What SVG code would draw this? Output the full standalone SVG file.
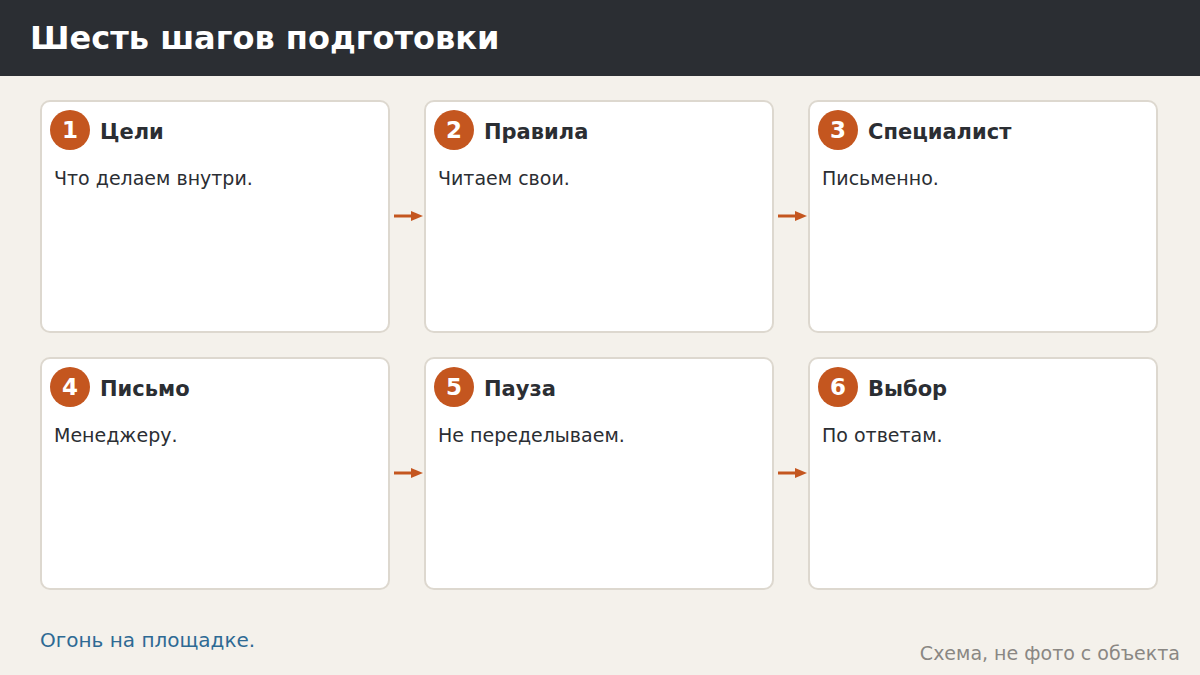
<svg xmlns="http://www.w3.org/2000/svg" width="1200" height="675" viewBox="0 0 1200 675">
<defs>
<style>
text{font-family:"DejaVu Sans","Noto Sans",sans-serif}
.card{fill:#fff;stroke:#ddd8cf;stroke-width:2}
.num{fill:#c4561f}
.nt{fill:#fff;font-size:23px;font-weight:bold;text-anchor:middle}
.tt{fill:#2b2e33;font-size:21px;font-weight:bold}
.bt{fill:#2b2e33;font-size:19px}
.conn{stroke:#c4561f;stroke-width:3;fill:none}
</style>
<marker id="ah" viewBox="0 0 12 10" refX="0" refY="5" markerWidth="4" markerHeight="3.33" markerUnits="strokeWidth" orient="auto"><path d="M0,0L12,5L0,10z" fill="#c4561f"/></marker>
</defs>
<rect width="1200" height="675" fill="#f4f1eb"/>
<rect width="1200" height="76" fill="#2b2e33"/>
<text x="30" y="49" fill="#fff" font-size="32" font-weight="bold">Шесть шагов подготовки</text>
<g id="n1"><rect class="card" x="41" y="101" width="348" height="231" rx="9"/><circle class="num" cx="70" cy="130" r="20"/><text class="nt" x="70" y="138">1</text><text class="tt" x="100" y="139">Цели</text><text class="bt" x="54" y="185">Что делаем внутри.</text></g>
<g id="n2"><rect class="card" x="425" y="101" width="348" height="231" rx="9"/><circle class="num" cx="454" cy="130" r="20"/><text class="nt" x="454" y="138">2</text><text class="tt" x="484" y="139">Правила</text><text class="bt" x="438" y="185">Читаем свои.</text></g>
<g id="n3"><rect class="card" x="809" y="101" width="348" height="231" rx="9"/><circle class="num" cx="838" cy="130" r="20"/><text class="nt" x="838" y="138">3</text><text class="tt" x="868" y="139">Специалист</text><text class="bt" x="822" y="185">Письменно.</text></g>
<g id="n4"><rect class="card" x="41" y="358" width="348" height="231" rx="9"/><circle class="num" cx="70" cy="387" r="20"/><text class="nt" x="70" y="395">4</text><text class="tt" x="100" y="396">Письмо</text><text class="bt" x="54" y="442">Менеджеру.</text></g>
<g id="n5"><rect class="card" x="425" y="358" width="348" height="231" rx="9"/><circle class="num" cx="454" cy="387" r="20"/><text class="nt" x="454" y="395">5</text><text class="tt" x="484" y="396">Пауза</text><text class="bt" x="438" y="442">Не переделываем.</text></g>
<g id="n6"><rect class="card" x="809" y="358" width="348" height="231" rx="9"/><circle class="num" cx="838" cy="387" r="20"/><text class="nt" x="838" y="395">6</text><text class="tt" x="868" y="396">Выбор</text><text class="bt" x="822" y="442">По ответам.</text></g>
<g id="connectors">
<line class="conn" x1="394" y1="216" x2="411" y2="216" marker-end="url(#ah)"/>
<line class="conn" x1="778" y1="216" x2="795" y2="216" marker-end="url(#ah)"/>
<line class="conn" x1="394" y1="473" x2="411" y2="473" marker-end="url(#ah)"/>
<line class="conn" x1="778" y1="473" x2="795" y2="473" marker-end="url(#ah)"/>
</g>
<text x="40" y="647" fill="#2e6a94" font-size="20">Огонь на площадке.</text>
<text x="1180" y="660" fill="#8a8783" font-size="19" text-anchor="end">Схема, не фото с объекта</text>
</svg>
